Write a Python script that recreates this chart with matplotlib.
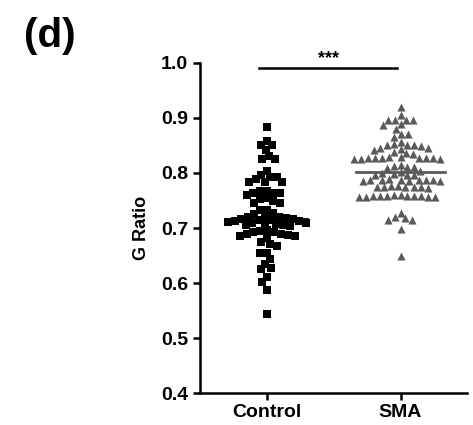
import numpy as np
import matplotlib
matplotlib.use("Agg")
import matplotlib.pyplot as plt

plt.rcParams['font.family'] = ['Liberation Sans', 'DejaVu Sans']
plt.rcParams['font.weight'] = 'bold'

groups = ["Control", "SMA"]

control = [0.884, 0.859, 0.850, 0.851, 0.842, 0.826, 0.826, 0.830, 0.804,
           0.793, 0.789, 0.793, 0.796, 0.783, 0.783, 0.784, 0.768, 0.768,
           0.763, 0.763, 0.760, 0.763, 0.755, 0.749, 0.745, 0.745, 0.752,
           0.733, 0.727, 0.725, 0.733, 0.721, 0.720, 0.719, 0.720,
           0.717, 0.715, 0.713, 0.711, 0.709, 0.707, 0.705, 0.704, 0.706,
           0.708, 0.710, 0.712, 0.714, 0.716,
           0.696, 0.693, 0.690, 0.688, 0.685, 0.682, 0.686, 0.689, 0.692, 0.695,
           0.675, 0.667, 0.671, 0.655, 0.655, 0.644, 0.635, 0.625, 0.627,
           0.611, 0.602, 0.587, 0.544]

sma = [0.920, 0.905, 0.887, 0.897, 0.897, 0.896, 0.896, 0.889, 0.880,
       0.871, 0.871, 0.865, 0.856, 0.851, 0.852, 0.851, 0.850, 0.849,
       0.845, 0.846, 0.843, 0.842, 0.838, 0.835, 0.836,
       0.829, 0.828, 0.827, 0.827, 0.826, 0.827, 0.828, 0.826, 0.825, 0.827, 0.829,
       0.815, 0.812, 0.810, 0.811, 0.809, 0.804, 0.800, 0.801,
       0.797, 0.798, 0.796, 0.797,
       0.788, 0.787, 0.786, 0.787, 0.785, 0.788, 0.787, 0.786, 0.789, 0.787,
       0.776, 0.775, 0.774, 0.775, 0.773, 0.776, 0.775, 0.774,
       0.760, 0.759, 0.758, 0.757, 0.758, 0.756, 0.758, 0.759, 0.757, 0.760, 0.758, 0.757,
       0.727, 0.718, 0.715, 0.715, 0.720, 0.698, 0.650]


def swarm(ax, xc, vals, d):
    # simple beeswarm in pixel space, returns x data coords
    vals = np.asarray(vals)
    pts = ax.transData.transform(np.column_stack([np.full(len(vals), xc), vals]))
    order = np.argsort(-vals)
    placed = []
    xs = np.zeros(len(vals))
    for i in order:
        y = pts[i, 1]
        bad = []
        for (px, py) in placed:
            dy = abs(py - y)
            if dy < d:
                w = np.sqrt(d * d - dy * dy)
                bad.append((px - w, px + w))
        cands = [0.0] + [b[0] for b in bad] + [b[1] for b in bad]
        cands.sort(key=abs)
        for c in cands:
            if all(not (lo + 1e-6 < c < hi - 1e-6) for lo, hi in bad):
                x = c
                break
        placed.append((x, y))
        xs[i] = x
    x0 = ax.transData.transform((xc, 0))[0]
    out = ax.transData.inverted().transform(np.column_stack([x0 + xs, pts[:, 1]]))
    return out[:, 0]


fig = plt.figure(figsize=(4.73, 4.25), dpi=100)
ax = fig.add_axes([0.423, 0.075, 0.565, 0.777])
ax.set_xlim(-0.5, 1.5)
ax.set_ylim(0.4, 1.0)

xc = swarm(ax, 0, control, 7.0)
xs = swarm(ax, 1, sma, 7.0)

ax.scatter(xc, control, marker='s', s=28, color='black', linewidths=0, clip_on=False)
ax.scatter(xs, sma, marker='^', s=34, color='#5a5a5a', linewidths=0, clip_on=False)

ax.plot([-0.3, 0.3], [np.median(control)] * 2, color='black', lw=2)
ax.plot([0.67, 1.33], [np.median(sma)] * 2, color='#5a5a5a', lw=2)

# significance bar
ax.plot([-0.06, 0.97], [0.99, 0.99], color='black', lw=1.8, clip_on=False)
ax.text(0.46, 0.992, '***', ha='center', va='bottom', fontsize=13, fontweight='bold')

ax.set_xticks([0, 1])
ax.set_xticklabels(groups)
ax.set_yticks(np.arange(0.4, 1.01, 0.1))
ax.set_yticklabels([f"{v:.1f}" for v in np.arange(0.4, 1.01, 0.1)])
ax.tick_params(axis='both', labelsize=14, width=1.8, length=5)
ax.tick_params(axis='x', pad=3)
for lab in ax.get_xticklabels() + ax.get_yticklabels():
    lab.set_fontweight('bold')

for s in ['top', 'right']:
    ax.spines[s].set_visible(False)
for s in ['left', 'bottom']:
    ax.spines[s].set_linewidth(1.8)

ax.set_ylabel('G Ratio', fontsize=13, fontweight='bold', labelpad=8)

fig.text(0.05, 0.915, '(d)', fontsize=29, fontweight='bold', ha='left', va='center')

fig.savefig('out.png', dpi=100)
